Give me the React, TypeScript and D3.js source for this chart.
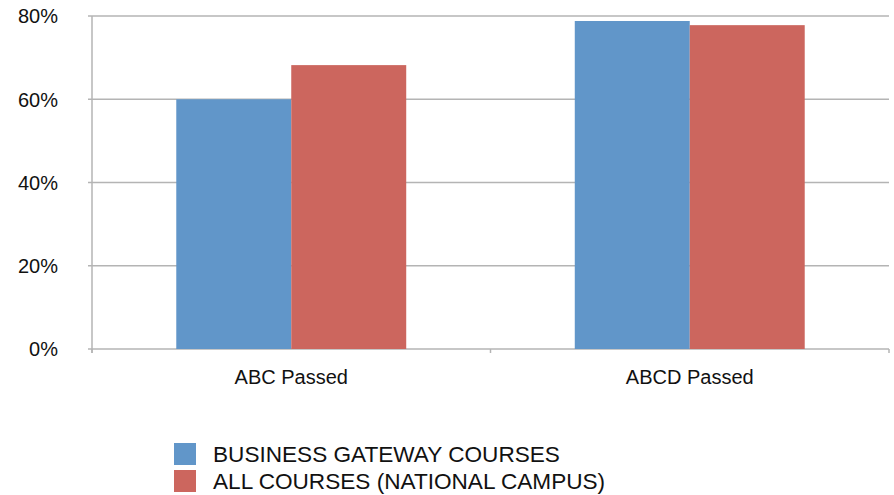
import React from "react";
import * as d3 from "d3";

// Pass rates by course group
const categories = ["ABC Passed", "ABCD Passed"];
const seriesNames = ["BUSINESS GATEWAY COURSES", "ALL COURSES (NATIONAL CAMPUS)"];
const businessGateway = [0.6, 0.788];
const allCourses = [0.682, 0.778];
const yTicks = [0, 0.2, 0.4, 0.6, 0.8];
const seriesColors = ["#6196c9", "#cc665e"];

const W = 894;
const H = 495;
const M = { left: 92, right: 5, top: 16, bottom: 146 };
const FONT = "'Liberation Sans', Arial, Helvetica, sans-serif";
const GRID = "#b4b4b4";

export default function App() {
  const x0 = d3.scaleBand<string>().domain(categories).range([M.left, W - M.right]).padding(0);
  const x1 = d3
    .scaleBand<string>()
    .domain(seriesNames)
    .range([0, x0.bandwidth()])
    .paddingInner(0)
    .paddingOuter(0.733);
  const y = d3.scaleLinear().domain([0, 0.8]).range([H - M.bottom, M.top]);
  const fmt = d3.format(".0%");
  const series = [businessGateway, allCourses];
  const y0 = y(0);

  return (
    <svg
      width={W}
      height={H}
      style={{ position: "absolute", left: 0, top: 0, background: "#fff" }}
      fontFamily={FONT}
    >
      {/* horizontal gridlines with left tick stubs */}
      {yTicks.map((t) => (
        <g key={t}>
          <line x1={M.left - 4} x2={W - M.right} y1={y(t)} y2={y(t)} stroke={GRID} strokeWidth={1.5} />
          <text x={58} y={y(t) + 2} textAnchor="end" dominantBaseline="middle" fontSize={20} fill="#111">
            {fmt(t)}
          </text>
        </g>
      ))}
      {/* vertical axis line */}
      <line x1={M.left} x2={M.left} y1={M.top} y2={y0 + 4} stroke={GRID} strokeWidth={1.5} />

      {/* bars */}
      {categories.map((c, ci) => (
        <g key={c} transform={`translate(${x0(c)},0)`}>
          {seriesNames.map((s, si) => (
            <rect
              key={s}
              x={x1(s)}
              width={x1.bandwidth()}
              y={y(series[si][ci])}
              height={y0 - y(series[si][ci])}
              fill={seriesColors[si]}
            />
          ))}
        </g>
      ))}

      {/* category ticks at band boundaries */}
      {[...categories.map((c) => x0(c) as number), (x0(categories[categories.length - 1]) as number) + x0.bandwidth()].map(
        (bx, i) => (
          <line key={i} x1={bx} x2={bx} y1={y0} y2={y0 + 4} stroke={GRID} strokeWidth={1.5} />
        )
      )}

      {/* category labels */}
      {categories.map((c) => (
        <text
          key={c}
          x={(x0(c) as number) + x0.bandwidth() / 2}
          y={384}
          textAnchor="middle"
          fontSize={20}
          fill="#111"
        >
          {c}
        </text>
      ))}

      {/* legend */}
      {seriesNames.map((s, i) => (
        <g key={s} transform={`translate(174,${443 + i * 27})`}>
          <rect width={22} height={22} fill={seriesColors[i]} />
          <text x={39} y={19} fontSize={22.6} fill="#111">
            {s}
          </text>
        </g>
      ))}
    </svg>
  );
}
